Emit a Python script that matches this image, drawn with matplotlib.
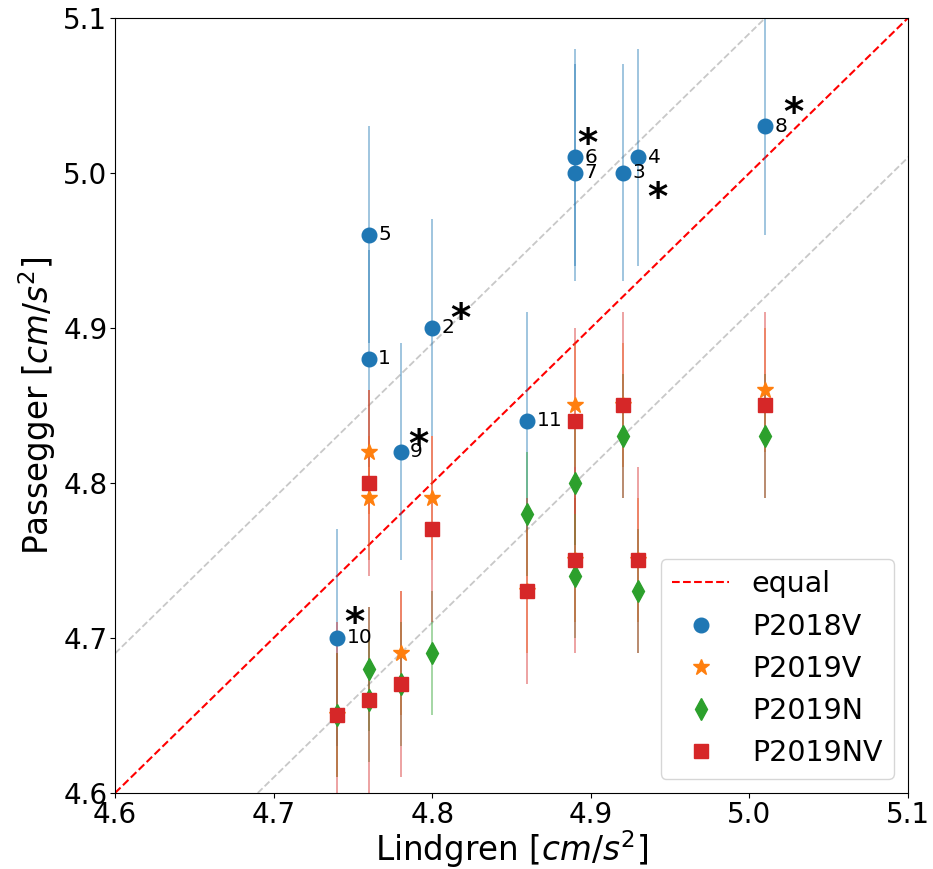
import matplotlib
matplotlib.use('Agg')
import matplotlib.pyplot as plt
import numpy as np

# station data (stations 1..11)
stations = ['1', '2', '3', '4', '5', '6', '7', '8', '9', '10', '11']
lindgren = [4.76, 4.80, 4.92, 4.93, 4.76, 4.89, 4.89, 5.01, 4.78, 4.74, 4.86]
p2018v = [4.88, 4.90, 5.00, 5.01, 4.96, 5.01, 5.00, 5.03, 4.82, 4.70, 4.84]
p2019v = [4.79, 4.79, 4.85, 4.75, 4.82, 4.85, 4.75, 4.86, 4.69, 4.65, 4.73]
p2019n = [4.66, 4.69, 4.83, 4.73, 4.68, 4.80, 4.74, 4.83, 4.67, 4.65, 4.78]
p2019nv = [4.66, 4.77, 4.85, 4.75, 4.80, 4.84, 4.75, 4.85, 4.67, 4.65, 4.73]
err_2018v = 0.07
err_2019v = 0.04
err_2019n = 0.04
err_2019nv = 0.06
starred = ['2', '3', '6', '8', '9', '10']
star_pos = {'2': (4.818, 4.905), '3': (4.942, 4.983), '6': (4.898, 5.018),
            '8': (5.028, 5.038), '9': (4.791, 4.824), '10': (4.751, 4.709)}

fig = plt.figure(figsize=(9.33, 8.69), dpi=100)
ax = fig.add_axes([0.1233, 0.0875, 0.8499, 0.8918])

lims = [4.6, 5.1]
ax.plot(lims, lims, 'r--', lw=1.5, label='equal', zorder=1)
ax.plot([4.6, 5.1], [4.69, 5.19], '--', color='#c8c8c8', lw=1.3, zorder=0)
ax.plot([4.69, 5.19], [4.6, 5.1], '--', color='#c8c8c8', lw=1.3, zorder=0)

series = [(p2018v, err_2018v, 'C0', 'o', 10.5, 'P2018V'),
          (p2019v, err_2019v, 'C1', '*', 12, 'P2019V'),
          (p2019n, err_2019n, 'C2', 'd', 11, 'P2019N'),
          (p2019nv, err_2019nv, 'C3', 's', 9.5, 'P2019NV')]

for vals, err, col, mk, ms, lab in series:
    ax.errorbar(lindgren, vals, yerr=err, fmt='none', ecolor=col, elinewidth=1.2,
                alpha=0.5, zorder=2)
for vals, err, col, mk, ms, lab in series:
    ax.plot(lindgren, vals, linestyle='none', marker=mk, ms=ms, color=col,
            label=lab, zorder=3)

for s, x, y in zip(stations, lindgren, p2018v):
    ax.text(x + 0.006, y, s, fontsize=14.5, va='center', ha='left', zorder=4)
for s in starred:
    ax.text(star_pos[s][0], star_pos[s][1], '*', fontsize=28, fontweight='bold',
            ha='center', va='center', zorder=4)

ax.set_xlim(lims)
ax.set_ylim(lims)
ax.set_xticks(np.arange(4.6, 5.11, 0.1))
ax.set_yticks(np.arange(4.6, 5.11, 0.1))
ax.tick_params(labelsize=20, pad=2)
ax.set_xlabel('Lindgren [$cm/s^2$]', fontsize=23.5)
ax.set_ylabel('Passegger [$cm/s^2$]', fontsize=23.5)
ax.xaxis.set_label_coords(0.5, -0.046)
ax.yaxis.set_label_coords(-0.072, 0.5)
ax.legend(loc='lower right', fontsize=20.5)

fig.savefig('out.png', dpi=100)
